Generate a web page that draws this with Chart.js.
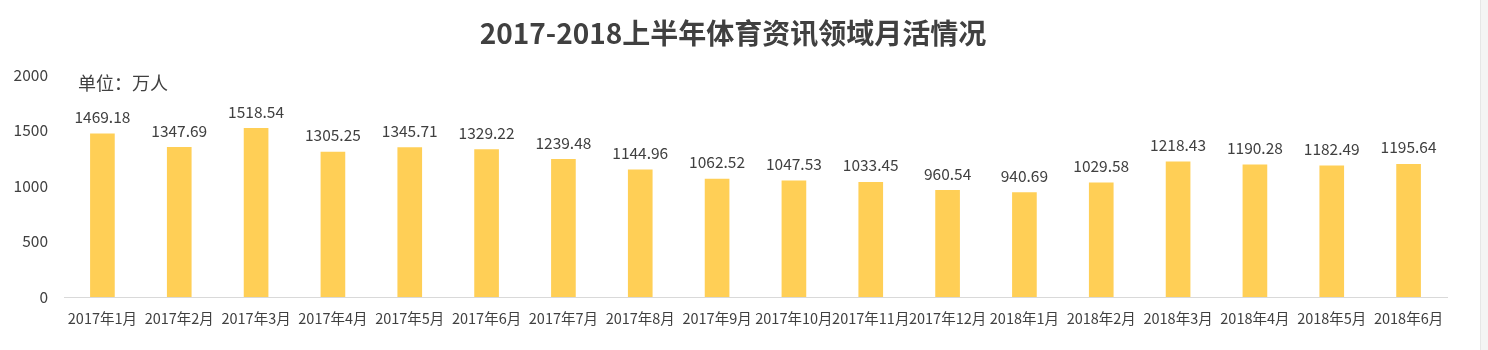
<!DOCTYPE html>
<html>
<head>
<meta charset="utf-8">
<script src="https://cdn.jsdelivr.net/npm/chart.js@4"></script>
<style>
  html, body { margin: 0; padding: 0; background: #fff; }
  #wrap { width: 1488px; height: 350px; position: relative; }
</style>
</head>
<body>
<div id="wrap"><canvas id="mauChart" width="1488" height="350"></canvas></div>
<script>
const months = ['2017年1月', '2017年2月', '2017年3月', '2017年4月', '2017年5月', '2017年6月',
  '2017年7月', '2017年8月', '2017年9月', '2017年10月', '2017年11月', '2017年12月',
  '2018年1月', '2018年2月', '2018年3月', '2018年4月', '2018年5月', '2018年6月'];
const mau = [1469.18, 1347.69, 1518.54, 1305.25, 1345.71, 1329.22,
  1239.48, 1144.96, 1062.52, 1047.53, 1033.45, 960.54,
  940.69, 1029.58, 1218.43, 1190.28, 1182.49, 1195.64];
const yTicks = [0, 500, 1000, 1500, 2000];

const titleText = '2017-2018上半年体育资讯领域月活情况';
const unitText = '单位：万人';
const fontFamily = '"Noto Sans CJK SC", "Noto Sans", sans-serif';

const decorPlugin = {
  id: 'decor',
  beforeDraw(chart) {
    const ctx = chart.ctx;
    ctx.save();
    ctx.fillStyle = '#f4f4f4';
    ctx.fillRect(1480, 0, 8, 350);
    ctx.fillStyle = '#e6e6e6';
    ctx.fillRect(1480, 0, 1, 350);
    ctx.restore();
  },
  afterDraw(chart) {
    const ctx = chart.ctx;
    ctx.save();
    ctx.fillStyle = '#404040';
    ctx.font = 'bold 28px ' + fontFamily;
    ctx.textAlign = 'center';
    ctx.textBaseline = 'middle';
    ctx.fillText(titleText, 733, 33);

    ctx.font = '18px ' + fontFamily;
    ctx.textAlign = 'left';
    ctx.fillText(unitText, 78, 83);

    // value labels above each bar
    ctx.font = '15.5px ' + fontFamily;
    ctx.textAlign = 'center';
    ctx.textBaseline = 'bottom';
    const meta = chart.getDatasetMeta(0);
    meta.data.forEach((bar, i) => {
      ctx.fillText(mau[i].toFixed(2), bar.x, bar.y - 9);
    });
    ctx.restore();
  }
};

new Chart(document.getElementById('mauChart'), {
  type: 'bar',
  data: {
    labels: months,
    datasets: [{
      data: mau,
      backgroundColor: '#ffcf56',
      barThickness: 24
    }]
  },
  options: {
    responsive: false,
    animation: false,
    layout: { padding: { top: 75, right: 41, bottom: 0, left: 0 } },
    plugins: {
      legend: { display: false },
      tooltip: { enabled: false }
    },
    scales: {
      x: {
        grid: { display: false, drawTicks: false },
        border: { color: '#d9d9d9', width: 1 },
        ticks: {
          color: '#404040',
          font: { family: fontFamily, size: 14.5 },
          padding: 13,
          maxRotation: 0,
          autoSkip: false
        },
        afterFit(scale) { scale.height = 53; }
      },
      y: {
        min: 0,
        max: 2000,
        afterBuildTicks(scale) { scale.ticks = yTicks.map(v => ({ value: v })); },
        grid: { display: false, drawTicks: false },
        border: { display: false },
        ticks: {
          color: '#404040',
          font: { family: fontFamily, size: 15.5 },
          padding: 16,
          callback: v => String(v)
        },
        afterFit(scale) { scale.width = 64; }
      }
    }
  },
  plugins: [decorPlugin]
});
</script>
</body>
</html>
